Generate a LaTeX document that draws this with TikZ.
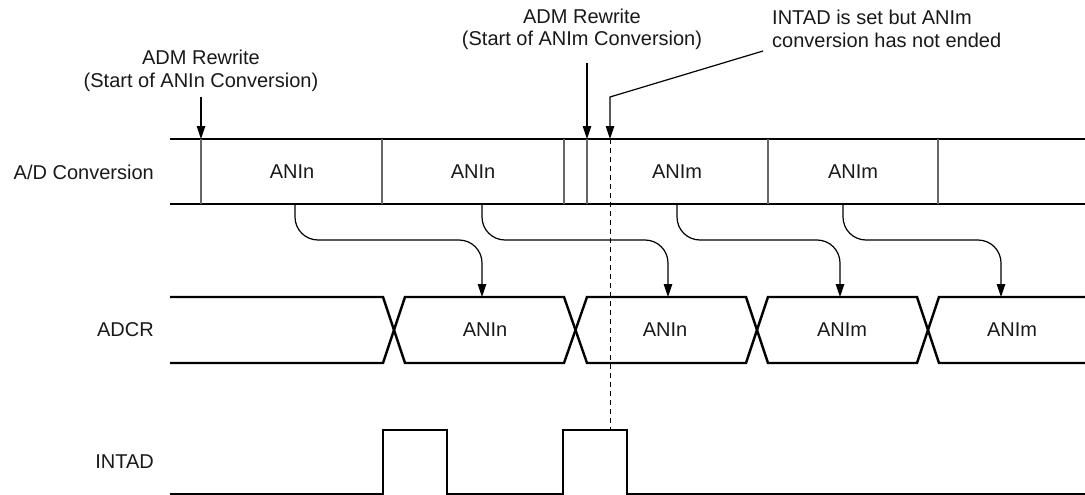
\documentclass[tikz,border=0pt]{standalone}
\usepackage{fontspec}
\setmainfont{Liberation Sans}
\usetikzlibrary{arrows.meta}
\begin{document}
\begin{tikzpicture}[x=1pt,y=-1pt,
  every node/.style={font=\fontsize{20}{22.5}\selectfont, inner sep=0pt, text=black!90},
  sig/.style={line width=2.4pt, black, line join=miter},
  sep/.style={line width=1.2pt, black!60},
  conn/.style={line width=1.2pt, black, -{Triangle[length=13pt,width=8.5pt]}},
  curve/.style={conn, rounded corners=23pt},
  lbl/.style={anchor=east}]
\useasboundingbox (0,0) rectangle (1085,495);
% left labels
\node[lbl] (lad) at (154,172) {A/D Conversion};
\node[lbl] (ladcr) at (154,330) {ADCR};
\node[lbl] (lint) at (154,462) {INTAD};
% A/D conversion bar
\draw[sig] (170,139) -- (1085,139);
\draw[sig] (170,204) -- (1085,204);
\foreach \x in {201,382,564,587,768,938}
  \draw[sep] (\x,139) -- (\x,204);
\node (c1) at (292,172) {ANIn};
\node (c2) at (473,172) {ANIn};
\node (c3) at (677,172) {ANIm};
\node (c4) at (853,172) {ANIm};
% ADCR
\draw[sig] (170,297) -- (383,297) -- (405,363) -- (564,363) -- (587,297) -- (746,297) -- (768,363) -- (917,363) -- (939,297) -- (1085,297);
\draw[sig] (170,363) -- (383,363) -- (405,297) -- (564,297) -- (587,363) -- (746,363) -- (768,297) -- (917,297) -- (939,363) -- (1085,363);
\node (d1) at (485,330) {ANIn};
\node (d2) at (665,330) {ANIn};
\node (d3) at (842,330) {ANIm};
\node (d4) at (1012,330) {ANIm};
% INTAD
\draw[sig] (170,494) -- (383,494) -- (383,430) -- (447,430) -- (447,494) -- (563,494) -- (563,430) -- (627,430) -- (627,494) -- (1085,494);
% curved transfer arrows
\coordinate (s1) at (295,204); \coordinate (e1) at (482,297);
\coordinate (s2) at (482,204); \coordinate (e2) at (668,297);
\coordinate (s3) at (677,204); \coordinate (e3) at (840,297);
\coordinate (s4) at (843,204); \coordinate (e4) at (1001,297);
\foreach \i in {1,2,3,4}
  \draw[curve] (s\i) |- ([yshift=57pt]e\i) -- (e\i);
% annotations
\node[align=center] (a1) at (201,71) {ADM Rewrite\\(Start of ANIn Conversion)};
\coordinate (a1s) at (201,97); \coordinate (a1e) at (201,139);
\draw[conn] (a1s) -- (a1e);
\node[align=center] (a2) at (582,29.5) {ADM Rewrite\\(Start of ANIm Conversion)};
\coordinate (a2s) at (587,63); \coordinate (a2e) at (587,139);
\draw[conn] (a2s) -- (a2e);
\node[align=left, anchor=west] (a3) at (772,29) {INTAD is set but ANIm\\conversion has not ended};
\coordinate (a3s) at (763,51); \coordinate (a3k) at (610,97); \coordinate (a3e) at (610,139);
\draw[conn] (a3s) -- (a3k) -- (a3e);
\coordinate (dend) at (610,430);
\draw[line width=1pt, black, dash pattern=on 5pt off 4pt] (a3e) -- (dend);
\end{tikzpicture}
\end{document}
